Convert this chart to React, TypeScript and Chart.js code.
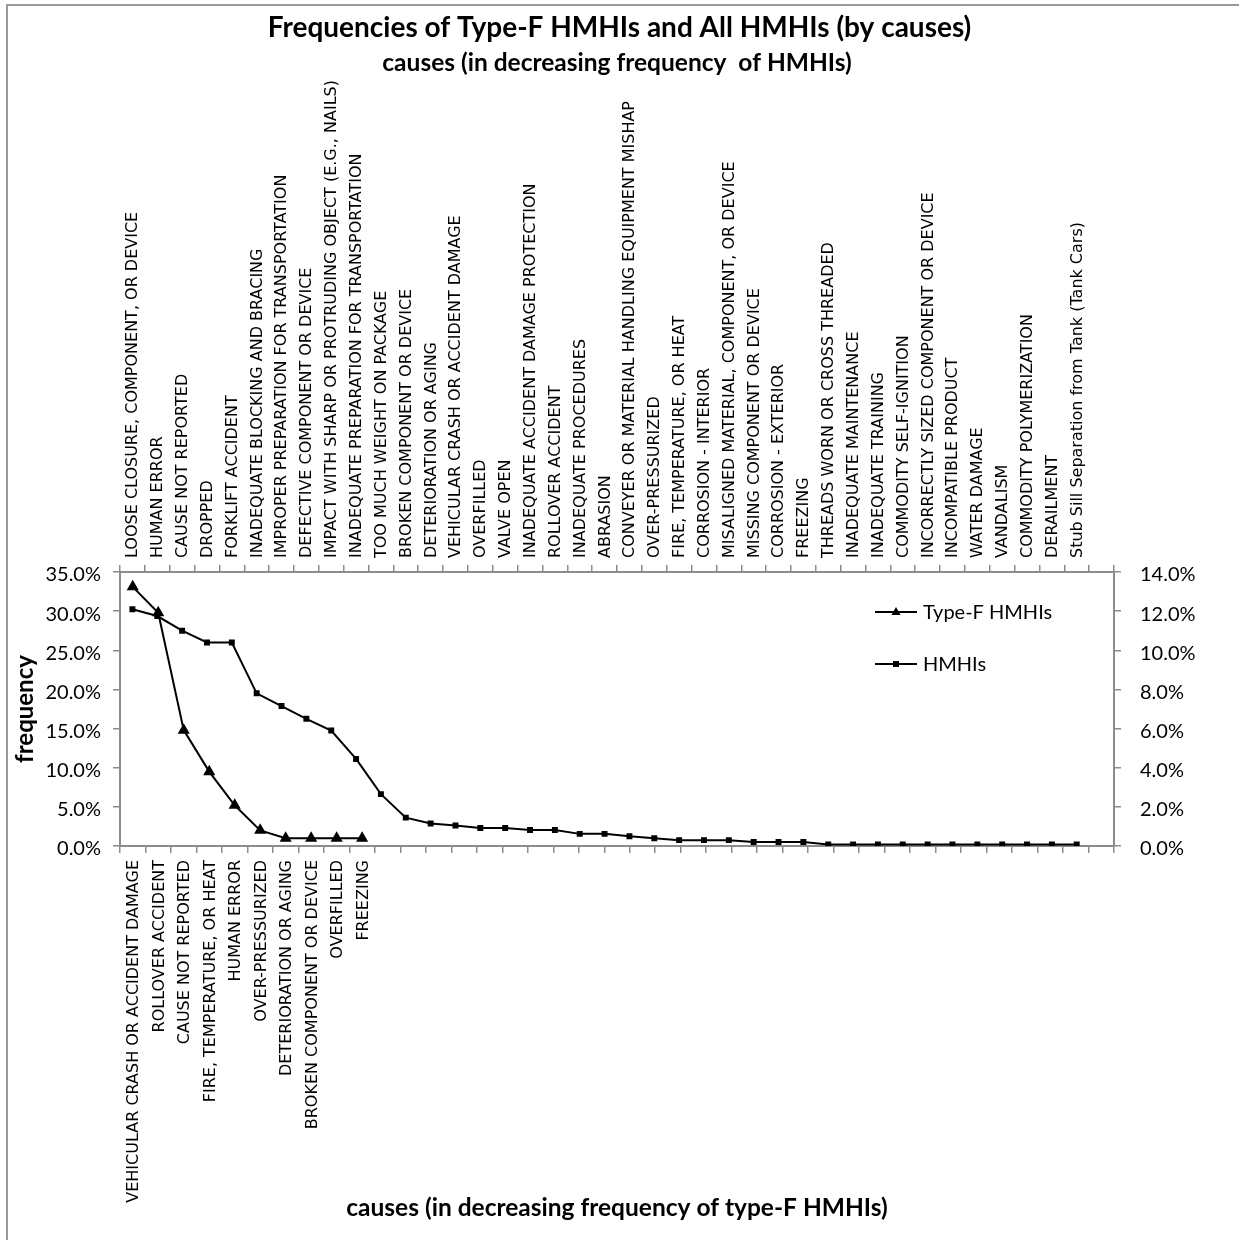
import React, { useEffect, useRef } from 'react';
import { Chart, registerables } from 'chart.js';

Chart.register(...registerables);

// Causes ordered by decreasing frequency of all HMHIs (top axis)
const topCauses: string[] = [
  'LOOSE CLOSURE, COMPONENT, OR DEVICE',
  'HUMAN ERROR',
  'CAUSE NOT REPORTED',
  'DROPPED',
  'FORKLIFT ACCIDENT',
  'INADEQUATE BLOCKING AND BRACING',
  'IMPROPER PREPARATION FOR TRANSPORTATION',
  'DEFECTIVE COMPONENT OR DEVICE',
  'IMPACT WITH SHARP OR PROTRUDING OBJECT (E.G., NAILS)',
  'INADEQUATE PREPARATION FOR TRANSPORTATION',
  'TOO MUCH WEIGHT ON PACKAGE',
  'BROKEN COMPONENT OR DEVICE',
  'DETERIORATION OR AGING',
  'VEHICULAR CRASH OR ACCIDENT DAMAGE',
  'OVERFILLED',
  'VALVE OPEN',
  'INADEQUATE ACCIDENT DAMAGE PROTECTION',
  'ROLLOVER ACCIDENT',
  'INADEQUATE PROCEDURES',
  'ABRASION',
  'CONVEYER OR MATERIAL HANDLING EQUIPMENT MISHAP',
  'OVER-PRESSURIZED',
  'FIRE, TEMPERATURE, OR HEAT',
  'CORROSION - INTERIOR',
  'MISALIGNED MATERIAL, COMPONENT, OR DEVICE',
  'MISSING COMPONENT OR DEVICE',
  'CORROSION - EXTERIOR',
  'FREEZING',
  'THREADS WORN OR CROSS THREADED',
  'INADEQUATE MAINTENANCE',
  'INADEQUATE TRAINING',
  'COMMODITY SELF-IGNITION',
  'INCORRECTLY SIZED COMPONENT OR DEVICE',
  'INCOMPATIBLE PRODUCT',
  'WATER DAMAGE',
  'VANDALISM',
  'COMMODITY POLYMERIZATION',
  'DERAILMENT',
  'Stub Sill Separation from Tank (Tank Cars)',
  '',
];

// Frequency of all HMHIs (%), right axis
const hmhiValues: number[] = [
  12.1, 11.75, 11.0, 10.4, 10.4, 7.8, 7.15, 6.5, 5.9, 4.45,
  2.65, 1.45, 1.15, 1.05, 0.92, 0.92, 0.82, 0.82, 0.62, 0.62,
  0.5, 0.4, 0.3, 0.3, 0.3, 0.2, 0.2, 0.2, 0.08, 0.08,
  0.08, 0.08, 0.08, 0.08, 0.08, 0.08, 0.08, 0.08, 0.08,
];

// Causes ordered by decreasing frequency of type-F HMHIs (bottom axis)
const typeFCauses: string[] = [
  'VEHICULAR CRASH OR ACCIDENT DAMAGE',
  'ROLLOVER ACCIDENT',
  'CAUSE NOT REPORTED',
  'FIRE, TEMPERATURE, OR HEAT',
  'HUMAN ERROR',
  'OVER-PRESSURIZED',
  'DETERIORATION OR AGING',
  'BROKEN COMPONENT OR DEVICE',
  'OVERFILLED',
  'FREEZING',
];
const bottomSlots = 39;

// Frequency of type-F HMHIs (%), left axis
const typeFValues: number[] = [33.1, 29.8, 14.8, 9.5, 5.2, 2.0, 1.0, 1.0, 1.0, 1.0];

const leftTicks = { min: 0, max: 35, step: 5 };
const rightTicks = { min: 0, max: 14, step: 2 };

const AXIS_GRAY = '#8c8c8c';

const legendInside = {
  id: 'legendInside',
  afterDraw(chart: any) {
    const { ctx, chartArea } = chart;
    const rows = [
      { ds: chart.data.datasets[0], dy: 40, shape: 'triangle' },
      { ds: chart.data.datasets[1], dy: 92, shape: 'rect' },
    ];
    ctx.save();
    rows.forEach((r) => {
      const y = chartArea.top + r.dy;
      const x0 = chartArea.left + 755;
      const x1 = chartArea.left + 797;
      const xm = (x0 + x1) / 2;
      ctx.strokeStyle = '#000';
      ctx.lineWidth = 2;
      ctx.beginPath();
      ctx.moveTo(x0, y);
      ctx.lineTo(x1, y);
      ctx.stroke();
      ctx.fillStyle = '#000';
      ctx.beginPath();
      if (r.shape === 'triangle') {
        ctx.moveTo(xm, y - 5);
        ctx.lineTo(xm + 4.5, y + 3);
        ctx.lineTo(xm - 4.5, y + 3);
        ctx.closePath();
      } else {
        ctx.rect(xm - 3, y - 3, 6, 6);
      }
      ctx.fill();
      ctx.font = '20px Lato';
      ctx.textBaseline = 'middle';
      ctx.textAlign = 'left';
      ctx.fillText(r.ds.label, chartArea.left + 803, y + 1);
    });
    ctx.restore();
  },
};

export default function App() {
  const canvasRef = useRef<HTMLCanvasElement | null>(null);

  useEffect(() => {
    if (!canvasRef.current) return;
    const bottomLabels = typeFCauses.concat(
      Array(bottomSlots - typeFCauses.length).fill('')
    );
    const pct = (v: any) => Number(v).toFixed(1) + '%';
    const catFont = { family: 'DejaVu Sans', size: 16, lineHeight: 1.2 };
    const chart = new Chart(canvasRef.current, {
      type: 'line',
      data: {
        datasets: [
          {
            label: 'Type-F HMHIs',
            data: typeFValues,
            xAxisID: 'xBottom',
            yAxisID: 'yLeft',
            borderColor: '#000',
            backgroundColor: '#000',
            borderWidth: 2,
            pointStyle: 'triangle',
            pointRadius: 7,
            pointBorderWidth: 0,
            tension: 0,
          },
          {
            label: 'HMHIs',
            data: hmhiValues,
            xAxisID: 'xTop',
            yAxisID: 'yRight',
            borderColor: '#000',
            backgroundColor: '#000',
            borderWidth: 2,
            pointStyle: 'rect',
            pointRadius: 4.2,
            pointBorderWidth: 0,
            tension: 0,
          },
        ],
      },
      options: {
        responsive: false,
        animation: false,
        layout: { padding: 0 },
        plugins: {
          legend: { display: false },
          tooltip: { enabled: false },
          title: {
            display: true,
            text: 'Frequencies of Type-F HMHIs and All HMHIs (by causes)',
            color: '#000',
            font: { family: 'Lato', size: 28, weight: 'bold', lineHeight: 1.2 },
            padding: { top: 11.2, bottom: 0 },
          },
        },
        scales: {
          xTop: {
            type: 'category',
            position: 'top',
            labels: topCauses,
            offset: true,
            afterFit: (s: any) => { s.height = 527.2; },
            border: { display: true, color: AXIS_GRAY, width: 2 },
            grid: {
              display: true,
              drawOnChartArea: false,
              drawTicks: true,
              tickLength: 7,
              offset: true,
              color: AXIS_GRAY,
              lineWidth: 1.5,
            },
            ticks: {
              autoSkip: false,
              minRotation: 90,
              maxRotation: 90,
              padding: 7,
              labelOffset: 20,
              color: '#000',
              font: catFont,
            },
            title: {
              display: true,
              text: 'causes (in decreasing frequency  of HMHIs)',
              color: '#000',
              font: { family: 'Lato', size: 24.5, weight: 'bold', lineHeight: 1.2 },
              padding: { top: 3.5, bottom: 0 },
            },
          },
          xBottom: {
            type: 'category',
            position: 'bottom',
            labels: bottomLabels,
            offset: true,
            afterFit: (s: any) => { s.height = 394; },
            border: { display: true, color: AXIS_GRAY, width: 2 },
            grid: {
              display: true,
              drawOnChartArea: false,
              drawTicks: true,
              tickLength: 7,
              offset: true,
              color: AXIS_GRAY,
              lineWidth: 1.5,
            },
            ticks: {
              autoSkip: false,
              minRotation: 90,
              maxRotation: 90,
              padding: 7,
              labelOffset: 1.5,
              color: '#000',
              font: catFont,
            },
            title: {
              display: true,
              text: 'causes (in decreasing frequency of type-F HMHIs)',
              color: '#000',
              font: { family: 'Lato', size: 24.5, weight: 'bold', lineHeight: 1.2 },
              padding: { top: 0, bottom: 17.3 },
            },
          },
          yLeft: {
            type: 'linear',
            position: 'left',
            min: leftTicks.min,
            max: leftTicks.max,
            afterFit: (s: any) => { s.width = 120; },
            border: { display: true, color: AXIS_GRAY, width: 2 },
            grid: {
              display: true,
              drawOnChartArea: false,
              drawTicks: true,
              tickLength: 7,
              color: AXIS_GRAY,
              lineWidth: 1.5,
            },
            ticks: {
              stepSize: leftTicks.step,
              padding: 12,
              labelOffset: 3,
              color: '#000',
              font: { family: 'Lato', size: 20 },
              callback: pct,
            },
            title: {
              display: true,
              text: 'frequency',
              color: '#000',
              font: { family: 'Lato', size: 24, weight: 'bold', lineHeight: 1.2 },
              padding: { top: 10.6, bottom: 0 },
            },
          },
          yRight: {
            type: 'linear',
            position: 'right',
            min: rightTicks.min,
            max: rightTicks.max,
            afterFit: (s: any) => { s.width = 125; },
            border: { display: true, color: AXIS_GRAY, width: 2 },
            grid: {
              display: true,
              drawOnChartArea: false,
              drawTicks: true,
              tickLength: 7,
              color: AXIS_GRAY,
              lineWidth: 1.5,
            },
            ticks: {
              stepSize: rightTicks.step,
              padding: 19,
              labelOffset: 3,
              color: '#000',
              font: { family: 'Lato', size: 20 },
              callback: pct,
            },
          },
        },
      },
      plugins: [legendInside],
    } as any);
    return () => chart.destroy();
  }, []);

  return (
    <div style={{ position: 'absolute', left: 0, top: 0, width: 1239, height: 1240, background: '#fff' }}>
      <canvas
        ref={canvasRef}
        width={1239}
        height={1240}
        style={{ display: 'block', width: 1239, height: 1240 }}
      />
      <div
        style={{
          position: 'absolute',
          left: 6,
          top: 4,
          right: 0,
          bottom: 0,
          borderTop: '2px solid #9a9a9a',
          borderLeft: '2px solid #9a9a9a',
          pointerEvents: 'none',
        }}
      />
    </div>
  );
}
